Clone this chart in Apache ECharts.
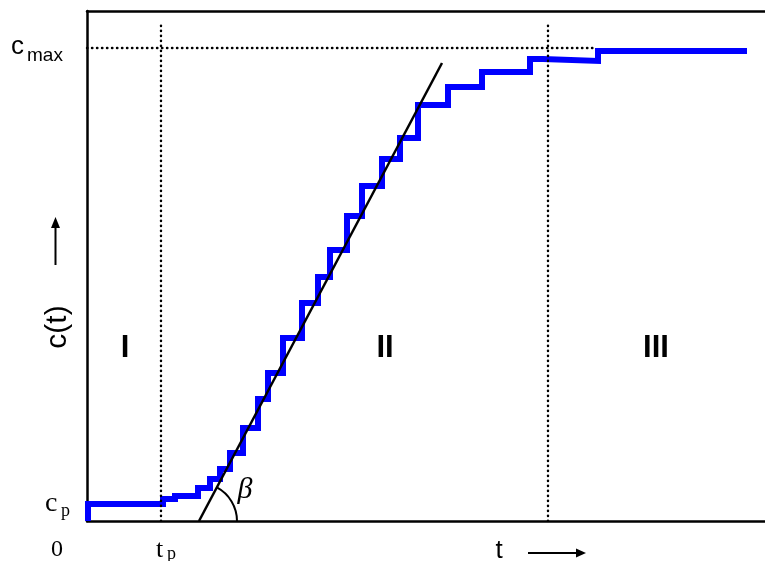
<!DOCTYPE html>
<html>
<head>
<meta charset="utf-8">
<script src="https://cdn.jsdelivr.net/npm/echarts@6/dist/echarts.min.js"></script>
<style>html,body{margin:0;padding:0;background:#fff;}#c{width:765px;height:561px;}</style>
</head>
<body>
<div id="c"></div>
<script>
// Step curve c(t): time at which each level starts, and the level
const stepTimes  = [0.1, 0.1, 7.6, 8.8, 11.1, 12.3, 13.3, 14.3, 15.6, 17.1, 18.1, 19.6, 21.5, 23.1, 24.3, 26.0, 27.5, 29.5, 31.3, 33.1, 36.1, 39.5, 44.3, 45.6, 51.1, 66.0];
const stepLevels = [0,   1.7, 2.2, 2.5, 3.3,  4.2,  5.2,  6.8,  9.3,  12.2, 14.8, 18.3, 21.8, 24.4, 27.1, 30.5, 33.5, 36.2, 38.3, 41.6, 43.4, 44.9, 46.2, 46.0, 47.0, 47.0];
// Tangent line (slope beta)
const tangentT = [11.2, 35.5];
const tangentC = [0, 45.8];
// Reference values
const tP = 7.4;        // t_p
const tIII = 46.1;     // start of region III
const cMax = 47.3;     // c_max
const cP = 1.7;        // c_p
const cMaxLineEndT = 50.8;
const vLineTopTp = 49.6;
const vLineTopIII = 49.8;
// Region labels
const regionLabels = ['I', 'II', 'III'];
const regionT = [3.8, 29.8, 56.9];
const regionC = 17.3;

const chart = echarts.init(document.getElementById('c'), null, {renderer: 'canvas'});
const dotted = {color: '#000', width: 2.4, type: [0.4, 4.6], cap: 'round'};
const frame = {show: true, lineStyle: {color: '#000', width: 2.5}};
const hidden = {axisTick: {show: false}, axisLabel: {show: false}, splitLine: {show: false}};
const option = {
  animation: false,
  grid: {left: 87, top: 11, right: 0, height: 510, show: false},
  xAxis: [
    Object.assign({type: 'value', min: 0, max: 67.8, position: 'bottom', axisLine: frame}, hidden),
    Object.assign({type: 'value', min: 0, max: 67.8, position: 'top', axisLine: frame}, hidden)
  ],
  yAxis: Object.assign({type: 'value', min: 0, max: 51, axisLine: frame}, hidden),
  series: [
    {type: 'line', step: 'end', symbol: 'none', z: 2,
     data: stepTimes.map((t, i) => [t, stepLevels[i]]),
     lineStyle: {color: '#0000ff', width: 6, join: 'miter', cap: 'butt'}},
    {type: 'line', symbol: 'none', z: 4,
     data: tangentT.map((t, i) => [t, tangentC[i]]),
     lineStyle: {color: '#000', width: 2.5}},
    {type: 'line', symbol: 'none', z: 3, data: [[tP, 0], [tP, vLineTopTp]], lineStyle: dotted},
    {type: 'line', symbol: 'none', z: 3, data: [[tIII, 0], [tIII, vLineTopIII]], lineStyle: dotted},
    {type: 'line', symbol: 'none', z: 3, data: [[0, cMax], [cMaxLineEndT, cMax]], lineStyle: dotted}
  ]
};
chart.setOption(option);

const px = p => chart.convertToPixel({gridIndex: 0}, p);
const sans = 'Liberation Sans, Arial, sans-serif';
const serif = 'Liberation Serif, Times New Roman, serif';
function txt(text, x, y, font, align, extra) {
  return Object.assign({type: 'text', x: x, y: y, z: 10,
    style: {text: text, font: font, fill: '#000', align: align || 'left', verticalAlign: 'middle'}}, extra || {});
}
const g = [];
const pMax = px([0, cMax]);
g.push(txt('c', 11, pMax[1] - 1, '26px ' + sans));
g.push(txt('max', 27, pMax[1] + 8, '19px ' + sans));
const pP = px([0, cP]);
g.push(txt('c', 45, pP[1] - 0.5, '28px ' + serif));
g.push(txt('p', 61, pP[1] + 7, '18px ' + serif));
const p0 = px([0, 0]);
g.push(txt('0', 57, p0[1] + 29, '24px ' + serif, 'center'));
const pTp = px([tP, 0]);
g.push(txt('t', pTp[0] - 5, p0[1] + 29, '26px ' + serif));
g.push(txt('p', pTp[0] + 6, p0[1] + 33, '18px ' + serif));
g.push(txt('t', 499, 551, '26px ' + sans, 'center'));
// horizontal arrow
g.push({type: 'line', z: 10, shape: {x1: 528, y1: 553, x2: 579, y2: 553}, style: {stroke: '#000', lineWidth: 2}});
g.push({type: 'polygon', z: 10, shape: {points: [[586, 553], [576, 548.5], [576, 557.5]]}, style: {fill: '#000'}});
// y label rotated
g.push(txt('c(t)', 58, 327, '30px ' + sans, 'center', {rotation: Math.PI / 2}));
g.push({type: 'line', z: 10, shape: {x1: 55.5, y1: 265, x2: 55.5, y2: 225}, style: {stroke: '#000', lineWidth: 2}});
g.push({type: 'polygon', z: 10, shape: {points: [[55.5, 217], [51, 228], [60, 228]]}, style: {fill: '#000'}});
// region labels
regionLabels.forEach((l, i) => {
  const p = px([regionT[i], regionC]);
  g.push(txt(l, p[0], p[1], 'bold 31px ' + sans, 'center'));
});
// beta angle arc
const a0 = px([tangentT[0], tangentC[0]]);
const a1 = px([tangentT[1], tangentC[1]]);
const ang = Math.atan2(a1[1] - a0[1], a1[0] - a0[0]);
g.push({type: 'arc', z: 10, shape: {cx: a0[0], cy: a0[1], r: 38, startAngle: ang, endAngle: 0, clockwise: true},
        style: {stroke: '#000', lineWidth: 2, fill: null}});
g.push(txt('β', a0[0] + 46, a0[1] - 31, 'italic 30px ' + serif, 'center'));
chart.setOption({graphic: g});
</script>
</body>
</html>
